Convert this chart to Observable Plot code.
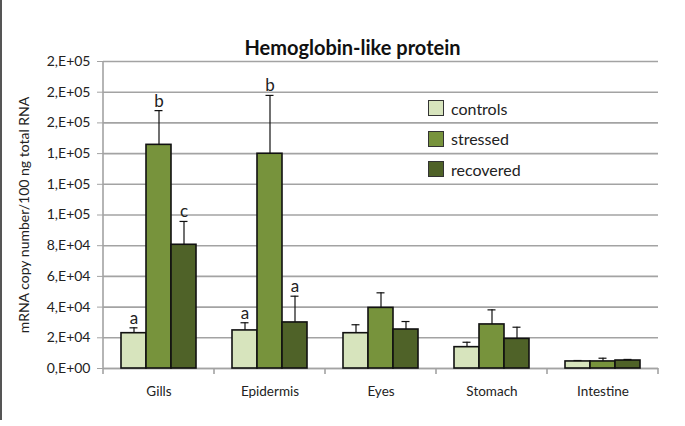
<!DOCTYPE html>
<html>
<head>
<meta charset="utf-8">
<script src="https://cdn.jsdelivr.net/npm/d3@7"></script>
<script src="https://cdn.jsdelivr.net/npm/@observablehq/plot@0.6"></script>
<style>
  html, body { margin: 0; padding: 0; background: #fff; }
  #wrap { position: relative; width: 685px; height: 426px; font-family: Lato, "Open Sans", sans-serif; color: #222; }
  #edge { position: absolute; left: 0; top: 0; width: 1.5px; height: 420px; background: #555; }
  #title { height: 56px; box-sizing: border-box; padding-top: 37px; padding-left: 20px; line-height: 20px;
           text-align: center; font-weight: bold; font-size: 20px; color: #111; }
  #chart svg { overflow: visible; display: block; }
  #legend { position: absolute; left: 428px; top: 98px; font-size: 16px; color: #222; }
  .row { display: flex; align-items: center; height: 20px; margin-bottom: 10.5px; }
  .sw { width: 16px; height: 16px; border: 1px solid #333; margin-right: 7px; box-sizing: border-box; }
</style>
</head>
<body>
<div id="wrap">
  <div id="edge"></div>
  <div id="title">Hemoglobin-like protein</div>
  <div id="chart"></div>
  <div id="legend"></div>
</div>
<script>
const tissues = ["Gills", "Epidermis", "Eyes", "Stomach", "Intestine"];
const groups = ["controls", "stressed", "recovered"];
const colors = ["#d7e4bd", "#77933c", "#4f6228"];

const controls = [23000, 24800, 23000, 13900, 4600];
const stressed = [145700, 139900, 39500, 28700, 4600];
const recovered = [80600, 30000, 25400, 19300, 5200];

const controlsErr = [3500, 5000, 5500, 3200, 600];
const stressedErr = [22300, 38000, 9800, 9500, 2100];
const recoveredErr = [15200, 17100, 5200, 7600, 700];

const controlsLetters = ["a", "a", "", "", ""];
const stressedLetters = ["b", "b", "", "", ""];
const recoveredLetters = ["c", "a", "", "", ""];

const yTicks = [0, 20000, 40000, 60000, 80000, 100000, 120000, 140000, 160000, 180000, 200000];
const yTickLabels = ["0,E+00", "2,E+04", "4,E+04", "6,E+04", "8,E+04", "1,E+05", "1,E+05", "1,E+05", "2,E+05", "2,E+05", "2,E+05"];
const yLabel = "mRNA copy number/100 ng total RNA";

const series = {
  controls: [controls, controlsErr, controlsLetters],
  stressed: [stressed, stressedErr, stressedLetters],
  recovered: [recovered, recoveredErr, recoveredLetters]
};
const data = [];
tissues.forEach((t, i) => {
  groups.forEach(g => {
    const [v, e, l] = series[g];
    data.push({tissue: t, group: g, value: v[i], hi: v[i] + e[i], letter: l[i]});
  });
});

const grid = "#a3a3a3";
const plot = Plot.plot({
  width: 685,
  height: 370,
  marginLeft: 102,
  marginRight: 26,
  marginTop: 5,
  marginBottom: 58,
  style: {fontFamily: "Lato, 'Open Sans', sans-serif", color: "#222", background: "transparent"},
  fx: {domain: tissues, padding: 0, label: null},
  x: {domain: groups, paddingInner: 0, paddingOuter: 0.72, axis: null},
  y: {domain: [0, 200000]},
  color: {domain: groups, range: colors},
  marks: [
    Plot.gridY(yTicks, {stroke: grid, strokeOpacity: 1, strokeWidth: 1.6}),
    Plot.ruleY([0], {stroke: grid, strokeWidth: 1.6}),
    Plot.axisY(yTicks, {
      tickFormat: (d, i) => yTickLabels[i], tickSize: 6, tickPadding: 7, stroke: grid,
      fontSize: 14, label: yLabel, labelAnchor: "center", labelArrow: "none", labelOffset: 84
    }),
    Plot.axisFx({anchor: "bottom", tickSize: 0, tickPadding: 18, fontSize: 13.5, label: null}),
    Plot.barY(data, {fx: "tissue", x: "group", y: "value", fill: "group", stroke: "#111", strokeWidth: 1.6}),
    Plot.ruleX(data, {fx: "tissue", x: "group", y1: "value", y2: "hi", stroke: "#111", strokeWidth: 1.2}),
    Plot.tickY(data, {fx: "tissue", x: "group", y: "hi", stroke: "#111", strokeWidth: 1.2, inset: 8.5}),
    Plot.text(data, {fx: "tissue", x: "group", y: "hi", text: "letter", lineAnchor: "bottom", dy: -4, fontSize: 17, fill: "#222"})
  ]
});

// Excel-style category boundary ticks and y axis line, derived from the plot's own scales
const fx = plot.scale("fx");
const ys = plot.scale("y");
const svg = d3.select(plot);
const y0 = ys.apply(0);
const y1 = ys.apply(200000);
const bounds = tissues.map(t => fx.apply(t)).concat([fx.apply(tissues[tissues.length - 1]) + fx.step]);
const g = svg.append("g").attr("stroke", grid).attr("stroke-width", 1.6);
bounds.forEach(b => g.append("line").attr("x1", b).attr("x2", b).attr("y1", y0).attr("y2", y0 + 6));
g.append("line").attr("x1", bounds[0]).attr("x2", bounds[0]).attr("y1", y0).attr("y2", y1);

document.getElementById("chart").appendChild(plot);

const legend = document.getElementById("legend");
groups.forEach((gname, i) => {
  const row = document.createElement("div");
  row.className = "row";
  const sw = document.createElement("div");
  sw.className = "sw";
  sw.style.background = colors[i];
  const tx = document.createElement("span");
  tx.textContent = gname;
  row.appendChild(sw);
  row.appendChild(tx);
  legend.appendChild(row);
});
</script>
</body>
</html>
